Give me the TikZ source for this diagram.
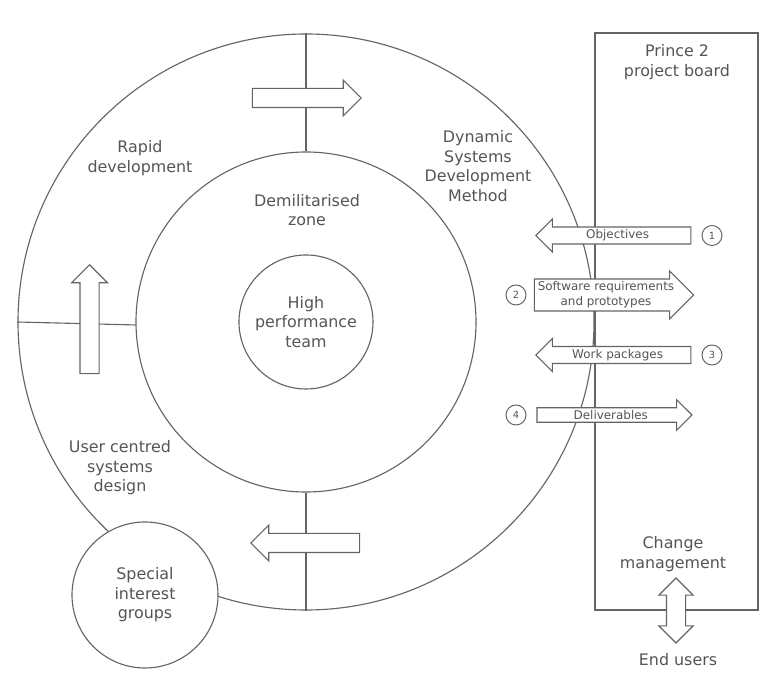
\documentclass[tikz,border=0pt]{standalone}
\usepackage{fontspec}
\setmainfont{DejaVu Sans}
\usepackage{tikz}
\usetikzlibrary{arrows.meta, positioning, shapes.arrows}
\definecolor{linegray}{RGB}{100,100,100}
\definecolor{textgray}{RGB}{85,85,85}

\begin{document}
\begin{tikzpicture}[
    ring/.style={circle, draw=linegray, line width=0.8pt, inner sep=0pt},
    label/.style={align=center, text=textgray, font=\fontsize{11.3}{13.9}\selectfont},
    blockarrow/.style={single arrow, draw=linegray, fill=white, line width=0.8pt, inner xsep=0pt, inner ysep=0.225cm,
        single arrow head extend=0.21cm, single arrow tip angle=90, minimum height=2.72cm},
    flowarrow/.style={single arrow, draw=linegray, fill=white, line width=0.8pt, inner xsep=2pt, inner ysep=1.5pt,
        single arrow head extend=0.2cm, single arrow tip angle=90, minimum height=3.875cm,
        align=center, text=textgray, font=\fontsize{8.5}{10.7}\selectfont},
    num/.style={circle, draw=linegray, line width=0.7pt, minimum size=0.5cm, inner sep=0pt, text=textgray, font=\fontsize{7}{8}\selectfont}
]
  \useasboundingbox (-7.65,-9.05) rectangle (11.45,8.05);

  % the three circles
  \node[ring, minimum size=14.4cm] (outer) at (0,0) {};
  \node[ring, minimum size=8.5cm] (inner) at (0,0) {};
  \node[ring, minimum size=3.35cm, label] (core) at (0,0) {High\\performance\\team};

  % project board
  \node[draw=linegray, line width=0.8pt, minimum width=4.075cm, minimum height=14.425cm] (board) at (9.2625,0.0125) {};

  \draw[linegray, line width=0.8pt] (outer.north) -- (inner.north);
  \draw[linegray, line width=0.8pt] (inner.south) -- (outer.south);
  \draw[linegray, line width=0.8pt] (outer.180.8) -- (inner.181.35);

  \node[blockarrow] (toparrow) at (-0.1,5.6) {};
  \node[blockarrow, rotate=90] (leftarrow) at (-5.41,-0.05) {};
  \node[blockarrow, rotate=180] (bottomarrow) at (0.1,-5.525) {};

  \node[label] (rapid) at (-4.15,4.1) {Rapid\\development};
  \node[label] (dmz) at (0.025,2.8) {Demilitarised\\zone};
  \node[label] (dsdm) at (4.3,3.9) {Dynamic\\Systems\\Development\\Method};
  \node[label] (ucsd) at (-4.65,-3.65) {User centred\\systems\\design};
  \node[ring, fill=white, minimum size=3.65cm, label] (sig) at (-4.025,-6.825) {Special\\interest\\groups};

  % flows between the circle and the board
  \node[flowarrow, shape border rotate=180] (objectives) at (7.79,2.1625) {Objectives};
  \node[flowarrow, minimum height=3.75cm] (software) at (7.5,0.675) {Software requirements\\and prototypes};
  \node[flowarrow, shape border rotate=180] (workpack) at (7.79,-0.825) {Work packages};
  \node[flowarrow] (deliver) at (7.62,-2.325) {Deliverables};

  \node[num] (n1) at (10.15,2.1625) {1};
  \node[num] (n2) at (5.25,0.675) {2};
  \node[num] (n3) at (10.15,-0.825) {3};
  \node[num] (n4) at (5.25,-2.325) {4};

  \node[label] (prince) at (9.275,6.5) {Prince 2\\project board};
  \node[label] (change) at (9.175,-5.8) {Change\\management};
  \node[double arrow, draw=linegray, fill=white, line width=0.8pt, inner xsep=0pt, inner ysep=0.225cm, rotate=90,
        double arrow head extend=0.19cm, double arrow tip angle=90, minimum height=1.625cm] (userlink) at (9.25,-7.2125) {};
  \node[label] (endusers) at (9.3,-8.45) {End users};
\end{tikzpicture}
\end{document}
